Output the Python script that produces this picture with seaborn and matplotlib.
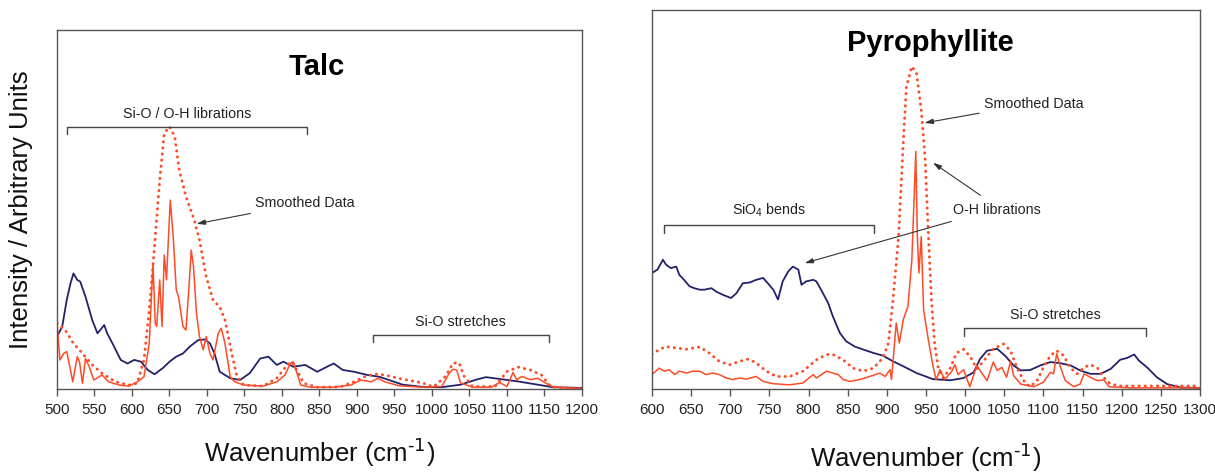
import matplotlib
matplotlib.use("Agg")
import matplotlib.pyplot as plt
import seaborn as sns

# ── Talc spectra (wavenumber, relative intensity 0-100) ─────────
talc_blue_wn = [500, 507, 513, 518, 522, 527, 531, 538, 547, 554, 563, 567, 574, 585, 594,
                603, 612, 621, 630, 641, 650, 659, 668, 677, 688, 697, 704, 710, 717, 731,
                744, 757, 771, 782, 793, 802, 815, 831, 847, 860, 869, 881, 896, 914, 930,
                961, 987, 1013, 1038, 1059, 1072, 1090, 1115, 1141, 1161, 1200]
talc_blue_val = [14.6, 17.4, 24.8, 29.4, 32.2, 30.4, 29.9, 25.7, 19.2, 15.5, 17.8, 15.5, 12.7, 8.1, 7.1,
                 8.1, 7.6, 5.3, 4.1, 5.8, 7.6, 9.0, 9.9, 11.8, 13.6, 13.8, 12.7, 9.9, 4.8, 3.0,
                 2.5, 4.4, 8.5, 9.0, 6.7, 7.6, 6.2, 6.7, 4.8, 6.2, 7.1, 5.3, 4.8, 3.9, 3.4,
                 1.2, 0.6, 0.5, 1.2, 2.6, 3.3, 2.8, 2.1, 1.2, 0.5, 0.3]

talc_raw_wn = [500, 504, 509, 513, 518, 521, 527, 530, 534, 538, 543, 549, 560, 569, 583,
               596, 607, 616, 623, 628, 631, 633, 637, 640, 643, 646, 651, 655, 659, 662,
               668, 672, 676, 679, 682, 686, 690, 695, 699, 704, 708, 715, 719, 724, 731,
               737, 749, 775, 793, 804, 811, 815, 820, 825, 838, 869, 892, 905, 919, 928,
               937, 956, 987, 1013, 1023, 1028, 1033, 1038, 1054, 1079, 1090, 1100, 1108, 1113, 1120,
               1131, 1141, 1151, 1161, 1200]
talc_raw_val = [18.3, 8.1, 9.9, 10.4, 5.3, 2.0, 9.0, 7.6, 1.6, 8.5, 6.2, 2.5, 3.9, 2.0, 1.1,
                0.8, 2.0, 3.4, 12.7, 35.0, 18.3, 17.4, 30.4, 17.4, 37.3, 30.4, 52.6, 42.4, 27.6, 25.7,
                17.4, 16.4, 28.5, 38.7, 34.1, 21.1, 14.6, 10.9, 14.6, 9.9, 8.1, 15.5, 16.9, 12.7, 3.4,
                2.0, 1.1, 0.8, 2.0, 3.9, 7.1, 7.6, 4.4, 1.1, 0.5, 0.5, 1.1, 2.5, 2.0, 3.0,
                2.0, 0.9, 0.5, 0.7, 4.4, 5.5, 5.3, 1.7, 0.5, 0.5, 1.8, 0.7, 4.6, 2.6, 3.5,
                2.6, 3.0, 1.7, 0.6, 0.1]

talc_smooth_wn = [500, 511, 522, 534, 547, 560, 578, 596, 607, 616, 623, 630, 637, 643, 650,
                  657, 663, 672, 683, 690, 699, 708, 717, 724, 733, 740, 749, 775, 793, 807,
                  813, 822, 829, 847, 878, 896, 910, 923, 937, 955, 987, 1002, 1018, 1028, 1036,
                  1043, 1054, 1084, 1100, 1115, 1131, 1146, 1156, 1167, 1200]
talc_smooth_val = [18.3, 16.4, 12.7, 9.9, 6.7, 4.4, 2.0, 1.1, 1.6, 8.1, 22.0, 39.6, 58.2, 71.2, 73.1,
                   70.3, 61.0, 53.6, 47.1, 41.5, 31.3, 24.8, 22.9, 19.2, 9.9, 3.4, 1.1, 0.8, 3.0, 6.7,
                   7.6, 4.4, 1.6, 0.5, 0.6, 2.0, 3.4, 4.2, 3.9, 3.0, 1.7, 0.6, 3.5, 7.2, 7.3,
                   3.5, 0.7, 0.7, 4.9, 6.1, 5.3, 3.9, 1.2, 0.3, 0.1]

# ── Pyrophyllite spectra ────────────────────────────────────────
pyro_blue_wn = [600, 607, 614, 618, 624, 631, 635, 641, 648, 654, 661, 667, 676, 682, 690,
                701, 708, 716, 725, 733, 742, 748, 755, 761, 767, 774, 780, 787, 791, 797,
                806, 810, 816, 825, 831, 840, 848, 859, 870, 883, 895, 908, 921, 938, 959,
                981, 998, 1011, 1019, 1028, 1041, 1051, 1062, 1071, 1083, 1096, 1109, 1122, 1135, 1147,
                1160, 1173, 1186, 1198, 1207, 1216, 1222, 1233, 1245, 1258, 1275, 1300]
pyro_blue_val = [30.6, 31.5, 34.1, 32.8, 31.9, 32.3, 30.1, 28.8, 27.1, 26.6, 26.2, 26.2, 26.6, 25.7, 24.9,
                 24.0, 25.3, 27.9, 28.1, 28.8, 29.3, 27.9, 26.2, 23.6, 28.4, 31.0, 32.3, 31.5, 27.5, 28.4,
                 28.8, 28.4, 26.2, 22.7, 19.2, 14.8, 12.6, 11.2, 10.4, 9.5, 8.8, 7.3, 6.0, 4.2, 2.6,
                 2.3, 2.9, 4.4, 7.9, 10.1, 10.6, 8.8, 6.2, 4.9, 5.0, 6.2, 7.1, 6.8, 6.2, 4.9,
                 4.0, 4.0, 5.3, 7.7, 8.2, 9.1, 7.5, 5.6, 3.1, 1.3, 0.4, 0.3]

pyro_raw_wn = [600, 605, 609, 616, 622, 629, 635, 644, 652, 661, 669, 678, 686, 695, 703,
               712, 720, 733, 742, 755, 776, 793, 806, 810, 823, 831, 838, 844, 853, 866,
               878, 891, 898, 904, 906, 912, 916, 921, 927, 932, 937, 939, 941, 944, 947,
               953, 959, 963, 968, 974, 983, 987, 991, 998, 1006, 1015, 1022, 1028, 1036, 1041,
               1047, 1053, 1058, 1062, 1071, 1088, 1100, 1109, 1113, 1117, 1122, 1128, 1139, 1147, 1152,
               1160, 1169, 1177, 1184, 1211, 1300]
pyro_raw_val = [3.8, 4.7, 5.5, 4.7, 5.1, 3.8, 4.7, 4.2, 4.7, 4.7, 3.8, 4.2, 3.8, 2.9, 2.5,
                2.9, 2.6, 3.3, 2.0, 1.4, 1.1, 1.6, 3.8, 2.9, 4.7, 4.2, 3.8, 2.5, 2.0, 2.5,
                3.3, 4.2, 3.3, 5.1, 2.5, 17.4, 12.1, 18.3, 21.8, 34.1, 62.7, 40.2, 30.6, 40.2, 20.9,
                13.0, 6.0, 2.5, 5.1, 2.5, 4.7, 6.4, 3.8, 5.1, 0.6, 6.2, 4.0, 2.2, 7.1, 4.9,
                5.7, 3.1, 7.3, 3.5, 1.3, 0.6, 1.8, 4.4, 4.0, 9.3, 5.7, 2.2, 0.6, 1.3, 4.0,
                3.1, 2.2, 2.4, 0.6, 0.3, 0.3]

pyro_smooth_wn = [600, 609, 618, 631, 644, 661, 673, 686, 699, 712, 723, 733, 746, 759, 776,
                  793, 810, 823, 831, 844, 857, 870, 883, 895, 902, 908, 915, 921, 925, 932,
                  938, 944, 949, 953, 957, 961, 966, 972, 981, 989, 998, 1007, 1015, 1024, 1036,
                  1049, 1058, 1066, 1075, 1083, 1092, 1100, 1109, 1117, 1126, 1134, 1143, 1152, 1160, 1169,
                  1177, 1186, 1198, 1300]
pyro_smooth_val = [9.1, 10.4, 11.2, 10.8, 10.5, 11.1, 9.5, 7.3, 6.4, 7.3, 7.9, 6.9, 4.7, 3.3, 3.3,
                   4.7, 7.7, 9.1, 9.1, 7.7, 5.5, 4.7, 5.5, 8.2, 12.1, 23.6, 40.2, 64.9, 79.8, 85.1,
                   83.3, 73.6, 60.5, 41.1, 23.6, 12.1, 5.1, 2.9, 5.5, 9.5, 10.5, 8.4, 5.3, 7.5, 10.6,
                   11.9, 10.1, 5.7, 2.2, 0.6, 2.2, 5.7, 8.8, 10.1, 8.8, 5.7, 4.0, 5.7, 6.4, 5.6,
                   3.1, 1.3, 0.8, 0.8]

# ── Band assignment brackets: (start, end, level, label) ────────
talc_brackets = [(513, 833, 73.0, "Si-O / O-H librations"),
                 (921, 1156, 15.1, "Si-O stretches")]
pyro_brackets = [(615, 883, 43.2, "SiO$_\\mathregular{4}$ bends"),
                 (999, 1231, 16.1, "Si-O stretches")]

BLUE = "#22226a"
RED = "#ff4a26"
GREY = "#444444"
XLABEL = "Wavenumber (cm$^{\\text{-1}}$)"

sns.set_style("ticks")
plt.rcParams["font.family"] = ["Liberation Sans", "DejaVu Sans"]

fig = plt.figure(figsize=(12.15, 4.73), dpi=100)
ax1 = fig.add_axes([0.0469, 0.1776, 0.4321, 0.7590])
ax2 = fig.add_axes([0.5366, 0.1776, 0.4510, 0.8013])


def draw_spectra(ax, bw, bv, rw, rv, sw, sv):
    sns.lineplot(x=bw, y=bv, ax=ax, color=BLUE, lw=1.3, estimator=None, sort=False)
    sns.lineplot(x=rw, y=rv, ax=ax, color=RED, lw=1.1, estimator=None, sort=False)
    sns.lineplot(x=sw, y=sv, ax=ax, color=RED, lw=2.1, linestyle=(0, (0.1, 2.0)),
                 dash_capstyle="round", estimator=None, sort=False)


def draw_brackets(ax, brackets, drop, gap):
    for x0, x1, lev, lab in brackets:
        ax.plot([x0, x0, x1, x1], [lev - drop, lev, lev, lev - drop], color=GREY, lw=1)
        ax.text((x0 + x1) / 2, lev + gap, lab, ha="center", va="bottom", fontsize=10.3, color="#222")


def style_axes(ax, xmin, xmax):
    ax.set_xlim(xmin, xmax)
    ax.set_ylim(0, 100)
    ax.set_xticks(range(xmin, xmax + 1, 50))
    ax.set_yticks([])
    ax.set_ylabel("")
    ax.tick_params(axis="x", length=5, width=1, color="#555555", labelsize=11, pad=5,
                   labelcolor="#222222", direction="out")
    for sp in ax.spines.values():
        sp.set_color("#555555")
        sp.set_linewidth(1)


arrow = dict(arrowstyle="-|>,head_length=0.5,head_width=0.15", color="#333", lw=0.8,
             shrinkA=1, shrinkB=0)

# ── Talc panel ──────────────────────────────────────────────────
draw_spectra(ax1, talc_blue_wn, talc_blue_val, talc_raw_wn, talc_raw_val,
             talc_smooth_wn, talc_smooth_val)
style_axes(ax1, 500, 1200)
draw_brackets(ax1, talc_brackets, 2.0, 1.6)
ax1.text(846, 89.7, "Talc", ha="center", va="center", fontsize=21, fontweight="bold", color="black")
ax1.annotate("Smoothed Data", xy=(686, 46.0), xytext=(764, 51.8), fontsize=10.3, color="#222",
             va="center", ha="left", arrowprops=arrow)
ax1.set_xlabel(XLABEL, fontsize=18.5, color="#111")
ax1.xaxis.set_label_coords(0.5, -0.13)
ax1.set_ylabel("Intensity / Arbitrary Units", fontsize=18.5, color="#111")
ax1.yaxis.set_label_coords(-0.046, 0.5)

# ── Pyrophyllite panel ──────────────────────────────────────────
draw_spectra(ax2, pyro_blue_wn, pyro_blue_val, pyro_raw_wn, pyro_raw_val,
             pyro_smooth_wn, pyro_smooth_val)
style_axes(ax2, 600, 1300)
draw_brackets(ax2, pyro_brackets, 2.0, 1.6)
ax2.text(956, 91.4, "Pyrophyllite", ha="center", va="center", fontsize=21, fontweight="bold",
         color="black")
ax2.annotate("Smoothed Data", xy=(948, 70.2), xytext=(1024, 75.3), fontsize=10.3, color="#222",
             va="center", ha="left", arrowprops=arrow)
ax2.text(984, 47.1, "O-H librations", fontsize=10.3, color="#222", va="center", ha="left")
ax2.annotate("", xy=(959, 59.7), xytext=(1021, 50.9), arrowprops=arrow)
ax2.annotate("", xy=(795, 33.2), xytext=(984, 44.3), arrowprops=arrow)
ax2.set_xlabel(XLABEL, fontsize=18.5, color="#111")
ax2.xaxis.set_label_coords(0.5, -0.135)

fig.savefig("out.png", dpi=100)
